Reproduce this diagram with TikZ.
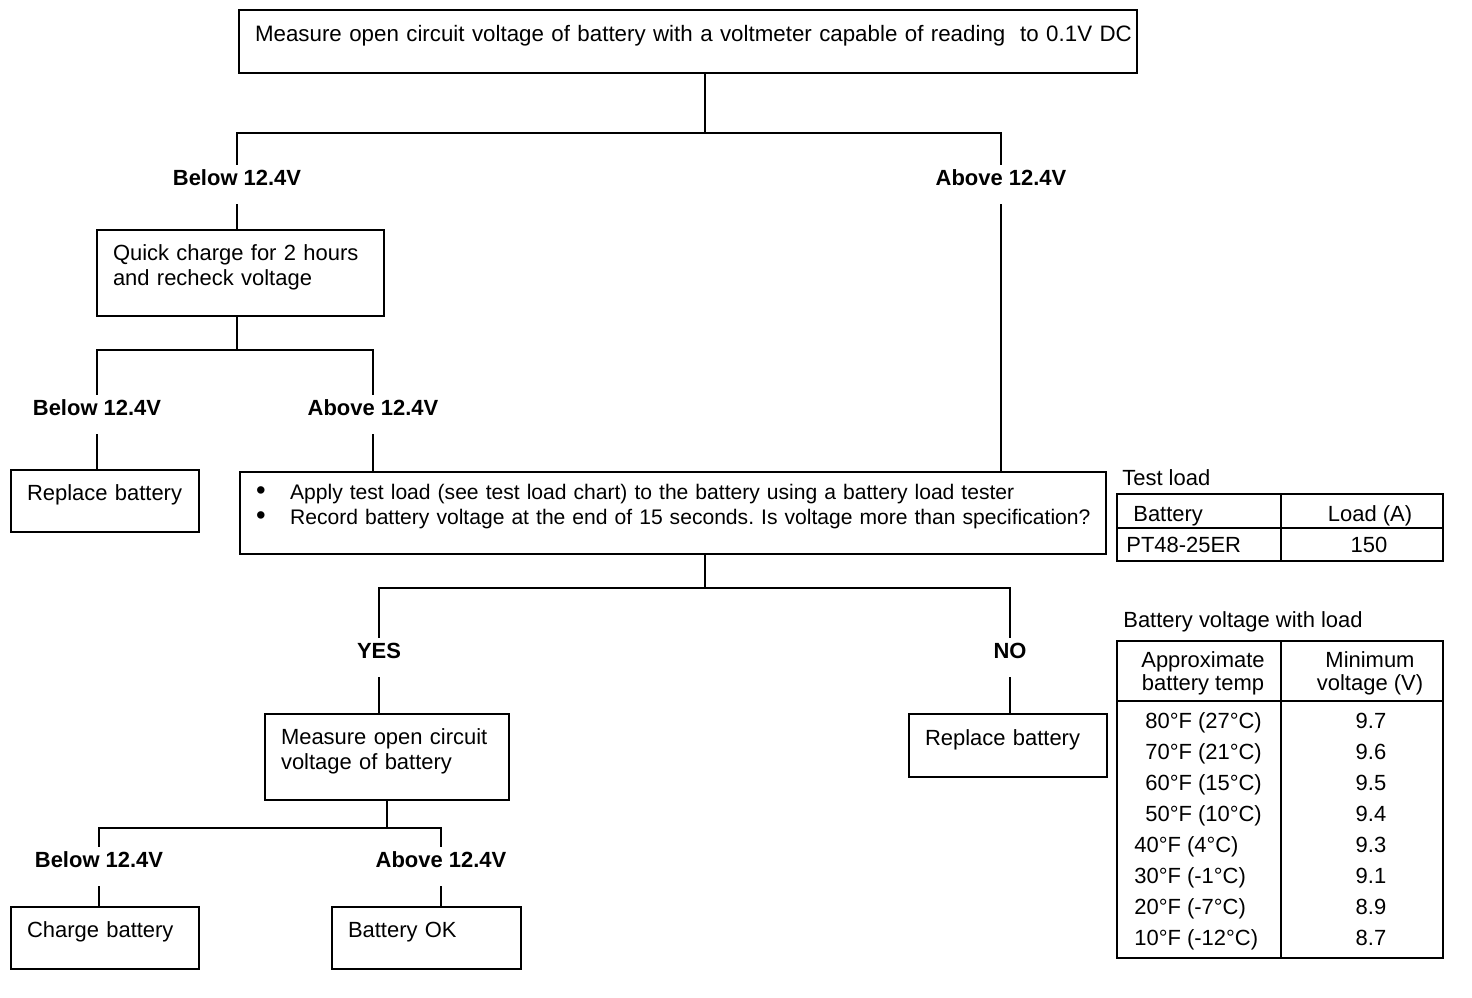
\documentclass[tikz,border=0pt]{standalone}
\usepackage{fontspec}
\setmainfont{Liberation Sans}
\usepackage{tikz}
\usetikzlibrary{
  arrows.meta,
  positioning,
  calc
}
\frenchspacing
\definecolor{inkcolor}{RGB}{0, 0, 0}
\newcommand{\chartfont}{\fontsize{12.5}{14.2}\selectfont}
\newcommand{\titlefont}{\fontsize{12.7}{14.2}\selectfont}
\newcommand{\testfont}{\fontsize{12}{14.2}\selectfont}
\newcommand{\headfont}{\fontsize{12.5}{13.1}\selectfont}
\newcommand{\testitem}[1]{\mbox{\makebox[0.68cm][l]{\scalebox{1.3}{\textbullet}}#1}}
\tikzset{
blocktext/.style={
  align=left,
  font=\chartfont,
  text=inkcolor
},
block/.style={
  draw=inkcolor,
  line width=1.1pt,
  inner xsep=0.32cm,
  inner ysep=0pt,
  execute at end node={\par\vspace*{0.24cm}},
  blocktext
},
branchlabel/.style={
  anchor=base,
  font=\chartfont\bfseries,
  text=inkcolor,
  inner sep=0pt,
  text height=0.4cm,
  text depth=0.38cm
},
link/.style={
  line width=1.1pt,
  draw=inkcolor
}
}

\begin{document}
\begin{tikzpicture}[
      x=0.02cm, y=-0.02cm,
      tblline/.style={line width=1.1pt, draw=inkcolor},
      cell/.style={font=\chartfont, text=inkcolor, inner sep=0pt,
                   text height=9pt, text depth=0pt},
      headcell/.style={font=\headfont, text=inkcolor, inner sep=0pt, align=center}
    ]
      \useasboundingbox (0,0) rectangle (1472,998);

      \node[block, text width=17.32cm, minimum height=1.26cm, font=\titlefont] (measure) at (688,41.5)
        {\mbox{Measure open circuit voltage of battery with a voltmeter capable of reading~ to 0.1V DC}};
      \node[block, text width=5.10cm, minimum height=1.72cm] (quick) at (240.5,273)
        {Quick charge for 2 hours\\and recheck voltage};
      \node[block, text width=3.12cm, minimum height=1.24cm] (replaceA) at (105,501) {Replace battery};
      \node[block, text width=16.68cm, minimum height=1.64cm, font=\testfont] (loadtest) at (673,513)
        {\testitem{Apply test load (see test load chart) to the battery using a battery load tester}\\
         \testitem{Record battery voltage at the end of 15 seconds. Is voltage more than specification?}};
      \node[block, text width=4.24cm, minimum height=1.72cm] (ocv) at (387,757)
        {Measure open circuit\\voltage of battery};
      \node[block, text width=3.32cm, minimum height=1.26cm] (replaceB) at (1008,745.5) {Replace battery};
      \node[block, text width=3.12cm, minimum height=1.24cm] (charge) at (105,938) {Charge battery};
      \node[block, text width=3.14cm, minimum height=1.24cm] (ok) at (426.5,938) {Battery OK};

      \node[branchlabel] (belowA) at (237,185) {Below 12.4V};
      \node[branchlabel] (aboveA) at (1001,185) {Above 12.4V};
      \node[branchlabel] (belowB) at (97,415) {Below 12.4V};
      \node[branchlabel] (aboveB) at (373,415) {Above 12.4V};
      \node[branchlabel] (yes) at (379,658) {YES};
      \node[branchlabel] (no) at (1010,658) {NO};
      \node[branchlabel] (belowC) at (99,867) {Below 12.4V};
      \node[branchlabel] (aboveC) at (441,867) {Above 12.4V};

      \coordinate (splitA) at (705,133);
      \coordinate (splitB) at (237,350);
      \coordinate (splitC) at (705,588);
      \coordinate (splitD) at (387,828);

      \draw[link] (splitA |- measure.south) -- (splitA);
      \draw[link] (belowA) |- (splitA) -| (aboveA);
      \draw[link] (belowA) -- (belowA |- quick.north);
      \draw[link] (aboveA) -- (aboveA |- loadtest.north);

      \draw[link] (splitB |- quick.south) -- (splitB);
      \draw[link] (belowB) |- (splitB) -| (aboveB);
      \draw[link] (belowB) -- (belowB |- replaceA.north);
      \draw[link] (aboveB) -- (aboveB |- loadtest.north);

      \draw[link] (splitC |- loadtest.south) -- (splitC);
      \draw[link] (yes) |- (splitC) -| (no);
      \draw[link] (yes) -- (yes |- ocv.north);
      \draw[link] (no) -- (no |- replaceB.north);

      \draw[link] (splitD |- ocv.south) -- (splitD);
      \draw[link] (belowC) |- (splitD) -| (aboveC);
      \draw[link] (belowC) -- (belowC |- charge.north);
      \draw[link] (aboveC) -- (aboveC |- ok.north);

      \node[cell, anchor=west] (loadtitle) at (1122,478) {Test load};
      \draw[tblline] (1117,494) rectangle (1443,561);
      \draw[tblline] (1117,528) -- (1443,528);
      \draw[tblline] (1281,494) -- (1281,561);
      \node[cell, anchor=west] (loadhead) at (1133,514) {Battery};
      \node[cell] (amphead) at (1370,514) {Load (A)};
      \node[cell, anchor=west] (model) at (1126,545) {PT48-25ER};
      \node[cell] (amps) at (1369,545) {150};

      \node[cell, anchor=west] (volttitle) at (1123,620) {Battery voltage with load};
      \draw[tblline] (1117,641) rectangle (1443,958);
      \draw[tblline] (1117,701) -- (1443,701);
      \draw[tblline] (1281,641) -- (1281,958);
      \node[headcell] (temphead) at (1203,673) {Approximate\\battery temp};
      \node[headcell] (minhead) at (1370,673) {Minimum\\voltage (V)};

      \node[cell, anchor=west] (t80) at (1145,721) {80°F (27°C)};
      \node[cell, anchor=west] (t70) at (1145,752) {70°F (21°C)};
      \node[cell, anchor=west] (t60) at (1145,783) {60°F (15°C)};
      \node[cell, anchor=west] (t50) at (1145,814) {50°F (10°C)};
      \node[cell, anchor=west] (t40) at (1134,845) {40°F (4°C)};
      \node[cell, anchor=west] (t30) at (1134,876) {30°F (-1°C)};
      \node[cell, anchor=west] (t20) at (1134,907) {20°F (-7°C)};
      \node[cell, anchor=west] (t10) at (1134,938) {10°F (-12°C)};

      \node[cell] (v80) at (1371,721) {9.7};
      \node[cell] (v70) at (1371,752) {9.6};
      \node[cell] (v60) at (1371,783) {9.5};
      \node[cell] (v50) at (1371,814) {9.4};
      \node[cell] (v40) at (1371,845) {9.3};
      \node[cell] (v30) at (1371,876) {9.1};
      \node[cell] (v20) at (1371,907) {8.9};
      \node[cell] (v10) at (1371,938) {8.7};
    \end{tikzpicture}
\end{document}
